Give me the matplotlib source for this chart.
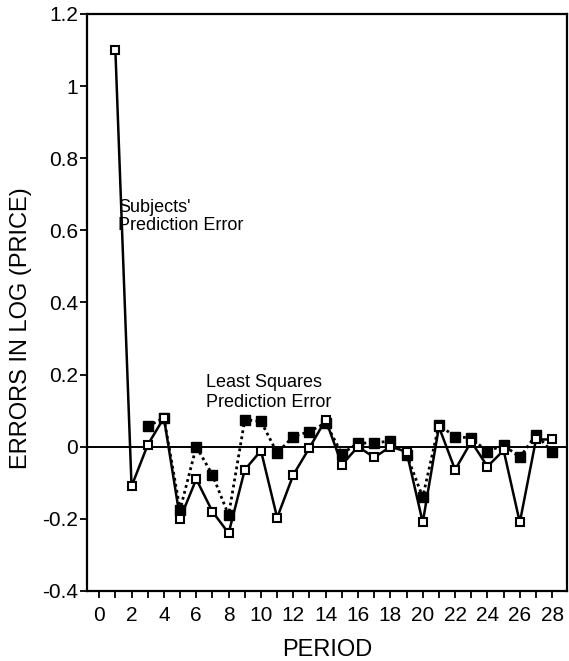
import matplotlib
matplotlib.use("Agg")
import matplotlib.pyplot as plt
from matplotlib.ticker import MultipleLocator, FuncFormatter

# values
periods = list(range(1, 29))
subjects_err = [1.10, -0.11, 0.005, 0.08, -0.20, -0.09, -0.18, -0.24, -0.064, -0.011,
                -0.197, -0.078, -0.003, 0.075, -0.05, 0.0, -0.03, 0.0, -0.014, -0.21,
                0.055, -0.064, 0.014, -0.055, -0.01, -0.21, 0.02, 0.02]
ls_periods = list(range(3, 29))
ls_err = [0.056, 0.08, -0.175, 0.0, -0.078, -0.19, 0.075, 0.07, -0.017, 0.028,
          0.042, 0.066, -0.02, 0.01, 0.01, 0.016, -0.022, -0.14, 0.06, 0.028,
          0.024, -0.014, 0.005, -0.03, 0.033, -0.014]

plt.rcParams["font.family"] = ["Liberation Sans", "DejaVu Sans"]

fig = plt.figure(figsize=(5.69, 6.61), dpi=100)
ax = fig.add_axes([0.153, 0.106, 0.843, 0.873])

ax.axhline(0, color="black", lw=1.4, zorder=1)

# least squares prediction error (dotted, filled squares)
ax.plot(ls_periods, ls_err, color="black", lw=2.0, linestyle=(0, (1.0, 1.2)),
        marker="s", markersize=6.5, markerfacecolor="black", markeredgecolor="black", zorder=3)

# subjects' prediction error (solid, open squares)
ax.plot(periods, subjects_err, color="black", lw=1.8,
        marker="s", markersize=5.5, markerfacecolor="white", markeredgecolor="black",
        markeredgewidth=1.5, zorder=4)

ax.text(1.15, 0.651, "Subjects'", fontsize=13, ha="left", va="baseline")
ax.text(1.15, 0.601, "Prediction Error", fontsize=13, ha="left", va="baseline")
ax.text(6.6, 0.166, "Least Squares", fontsize=13, ha="left", va="baseline")
ax.text(6.6, 0.111, "Prediction Error", fontsize=13, ha="left", va="baseline")

ax.set_xlim(-0.75, 28.9)
ax.set_ylim(-0.4, 1.2)
ax.xaxis.set_major_locator(MultipleLocator(2))
ax.xaxis.set_minor_locator(MultipleLocator(1))
ax.yaxis.set_major_locator(MultipleLocator(0.2))
ax.yaxis.set_major_formatter(FuncFormatter(lambda v, p: "0" if abs(v) < 1e-9 else ("%g" % round(v, 1))))

ax.tick_params(axis="x", which="both", direction="out", length=5, width=1.3, labelsize=15, pad=6)
ax.tick_params(axis="y", which="major", direction="out", length=5, width=1.3, labelsize=15, pad=1.5)
for s in ax.spines.values():
    s.set_linewidth(1.6)

ax.set_xlabel("PERIOD", fontsize=17, labelpad=10)
ax.set_ylabel("ERRORS IN LOG (PRICE)", fontsize=17)
ax.yaxis.set_label_coords(-0.115, 0.456)

fig.savefig("out.png", dpi=100, facecolor="white")
